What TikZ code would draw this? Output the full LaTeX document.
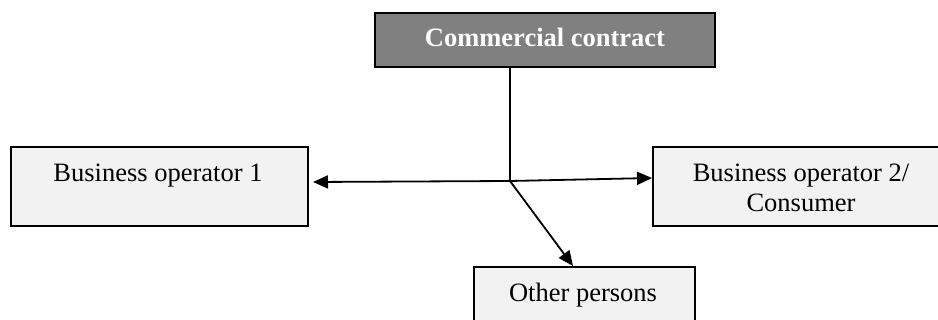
\documentclass[tikz,border=0pt]{standalone}
\usepackage{fontspec}
\setmainfont{Liberation Serif}
\usetikzlibrary{arrows.meta}
\definecolor{boxgray}{HTML}{808080}
\definecolor{boxlight}{HTML}{F2F2F2}
\tikzset{
  lightbox/.style={draw=black, line width=0.9pt, fill=boxlight, inner sep=0pt},
  darkbox/.style={draw=black, line width=0.9pt, fill=boxgray, inner sep=0pt},
  lbl/.style={anchor=base, inner sep=0pt, font=\fontsize{13.25pt}{15.5pt}\selectfont},
  conn/.style={line width=0.9pt, draw=black},
  tip/.style={-{Triangle[length=7.5pt,width=6.5pt]}}
}
\begin{document}
\begin{tikzpicture}[x=0.5pt,y=-0.5pt]
\useasboundingbox (0,0) rectangle (938,320);
\clip (0,0) rectangle (938,320);
% boxes
\node[darkbox, minimum width=170pt, minimum height=27pt, anchor=north west] (top) at (374,12) {};
\node[lightbox, minimum width=148.5pt, minimum height=39.5pt, anchor=north west] (left) at (10,146) {};
\node[lightbox, minimum width=170pt, minimum height=39.5pt, anchor=north west] (right) at (652,146) {};
\node[lightbox, minimum width=110.5pt, minimum height=60pt, anchor=north west] (bottom) at (473,266) {};
% labels
\node[lbl, text=white, font=\fontsize{13.25pt}{15.5pt}\selectfont\bfseries] (ttop) at (545,47) {Commercial contract};
\node[lbl] (tleft) at (158,182) {Business operator 1};
\node[lbl] (tright1) at (801,182) {Business operator 2/};
\node[lbl] (tright2) at (801,212) {Consumer};
\node[lbl] (tbottom) at (583,302) {Other persons};
% connectors
\coordinate (j) at (510,181);
\coordinate (lt) at (313,182);
\coordinate (rt) at (652,178);
\coordinate (bt) at (573,266);
\draw[conn] (top.south -| j) -- (j);
\draw[conn, tip] (j) -- (lt);
\draw[conn, tip] (j) -- (rt);
\draw[conn, tip] (j) -- (bt);
\end{tikzpicture}
\end{document}
